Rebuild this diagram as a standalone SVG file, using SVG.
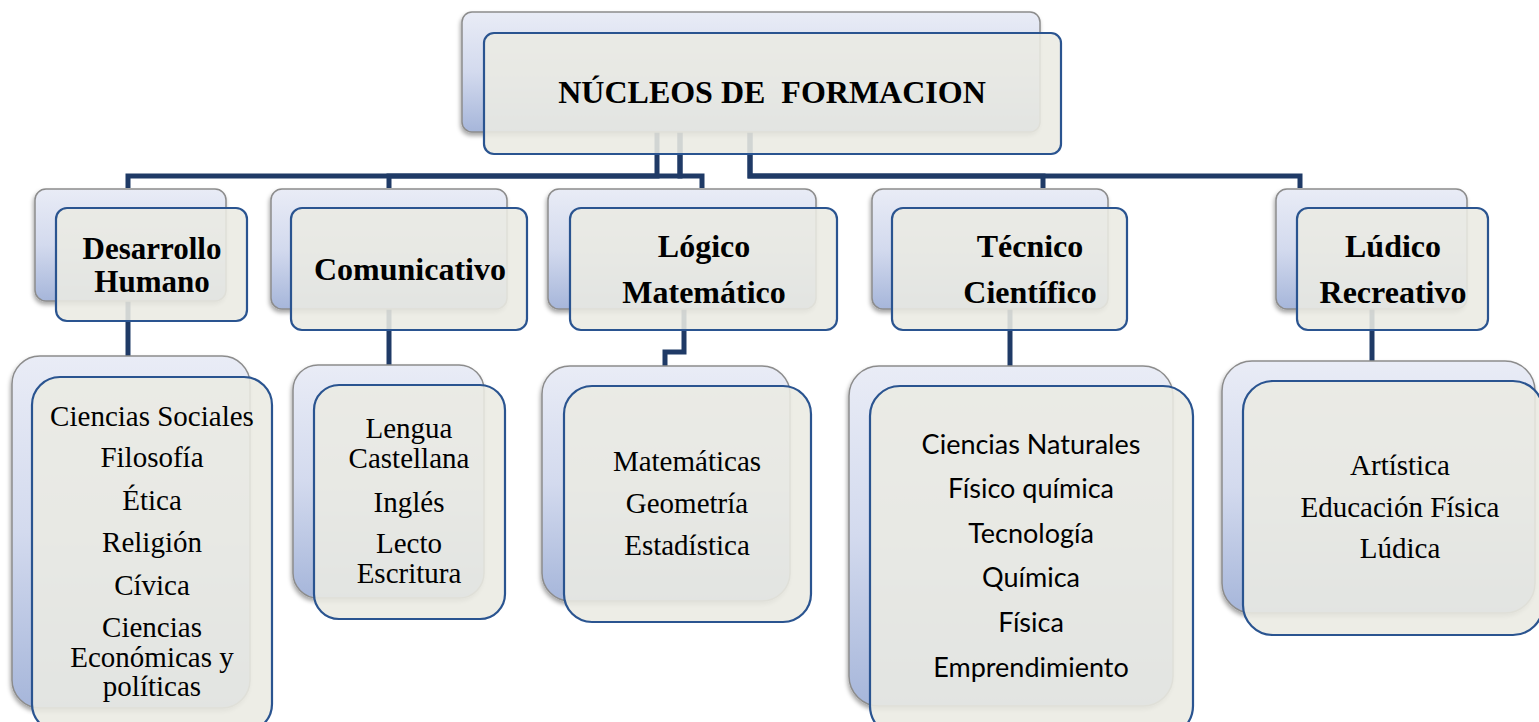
<svg xmlns="http://www.w3.org/2000/svg" width="1539" height="722" viewBox="0 0 1539 722">
<defs>
<linearGradient id="g" x1="0" y1="0" x2="0" y2="1">
<stop offset="0" stop-color="#e9ecf6"/>
<stop offset="0.5" stop-color="#d3daee"/>
<stop offset="1" stop-color="#a6b6da"/>
</linearGradient>
<filter id="sh" x="-10%" y="-10%" width="120%" height="125%">
<feDropShadow dx="-1" dy="3" stdDeviation="2" flood-color="#000" flood-opacity="0.35"/>
</filter>
<style>
.back{fill:url(#g);stroke:#8c8c8c;stroke-width:1.5;filter:url(#sh)}
.front{fill:#ebeae3;fill-opacity:0.88;stroke:#2a5490;stroke-width:2.2}
.conn{fill:none;stroke:#1f3a66;stroke-width:5}
.h{font-family:"Liberation Serif","Times New Roman",serif;font-weight:bold;font-size:32px;text-anchor:middle;fill:#000;white-space:pre}
.t{font-family:"Liberation Serif","Times New Roman",serif;font-size:29px;text-anchor:middle;fill:#000}
.c{font-family:Lato,"Open Sans",sans-serif;font-size:27px;text-anchor:middle;fill:#000}
</style>
</defs>
<rect width="1539" height="722" fill="#fff"/>

<g id="connectors">
<path class="conn" d="M657,132 V176 H128 V188"/>
<path class="conn" d="M680,132 V176 H389 V188"/>
<path class="conn" d="M680,132 V176 H702 V188"/>
<path class="conn" d="M750,132 V176 H1043 V188"/>
<path class="conn" d="M750,132 V176 H1300 V188"/>
<path class="conn" d="M128,300 V356"/>
<path class="conn" d="M389,308 V365"/>
<path class="conn" d="M684,308 V352 H665 V366"/>
<path class="conn" d="M1010,308 V366"/>
<path class="conn" d="M1372,308 V361"/>
</g>

<g id="root">
<rect class="back" x="462" y="12" width="578" height="120" rx="10"/>
<rect class="front" x="484" y="33" width="577" height="121" rx="10"/>
<text class="h" x="772" y="103">NÚCLEOS DE  FORMACION</text>
</g>

<g id="desarrollo">
<rect class="back" x="35" y="189" width="191" height="112" rx="11"/>
<rect class="front" x="56" y="208" width="191" height="113" rx="11"/>
<text class="h" x="152" y="259" style="font-size:31px">Desarrollo</text>
<text class="h" x="152" y="292" style="font-size:31px">Humano</text>
</g>

<g id="comunicativo">
<rect class="back" x="271" y="189" width="236" height="120" rx="11"/>
<rect class="front" x="291" y="208" width="236" height="122" rx="11"/>
<text class="h" x="410" y="280">Comunicativo</text>
</g>

<g id="logico">
<rect class="back" x="548" y="189" width="268" height="120" rx="11"/>
<rect class="front" x="570" y="208" width="267" height="122" rx="11"/>
<text class="h" x="704" y="257">Lógico</text>
<text class="h" x="704" y="303">Matemático</text>
</g>

<g id="tecnico">
<rect class="back" x="872" y="189" width="236" height="120" rx="11"/>
<rect class="front" x="892" y="208" width="235" height="122" rx="11"/>
<text class="h" x="1030" y="257">Técnico</text>
<text class="h" x="1030" y="303">Científico</text>
</g>

<g id="ludico">
<rect class="back" x="1276" y="189" width="191" height="120" rx="11"/>
<rect class="front" x="1297" y="208" width="191" height="122" rx="11"/>
<text class="h" x="1393" y="257">Lúdico</text>
<text class="h" x="1393" y="303">Recreativo</text>
</g>

<g id="desarrollo-list">
<rect class="back" x="12" y="356" width="238" height="352" rx="28"/>
<rect class="front" x="32" y="377" width="240" height="355" rx="28"/>
<text class="t" x="152" y="426">Ciencias Sociales</text>
<text class="t" x="152" y="467">Filosofía</text>
<text class="t" x="152" y="510">Ética</text>
<text class="t" x="152" y="552">Religión</text>
<text class="t" x="152" y="595">Cívica</text>
<text class="t" x="152" y="637">Ciencias</text>
<text class="t" x="152" y="667">Económicas y</text>
<text class="t" x="152" y="696">políticas</text>
</g>

<g id="comunicativo-list">
<rect class="back" x="293" y="365" width="191" height="233" rx="25"/>
<rect class="front" x="314" y="385" width="191" height="234" rx="25"/>
<text class="t" x="409" y="438">Lengua</text>
<text class="t" x="409" y="468">Castellana</text>
<text class="t" x="409" y="512">Inglés</text>
<text class="t" x="409" y="553">Lecto</text>
<text class="t" x="409" y="583">Escritura</text>
</g>

<g id="logico-list">
<rect class="back" x="542" y="366" width="248" height="235" rx="28"/>
<rect class="front" x="564" y="386" width="247" height="236" rx="28"/>
<text class="t" x="687" y="471">Matemáticas</text>
<text class="t" x="687" y="513">Geometría</text>
<text class="t" x="687" y="555">Estadística</text>
</g>

<g id="tecnico-list">
<rect class="back" x="849" y="366" width="324" height="340" rx="30"/>
<rect class="front" x="870" y="386" width="323" height="350" rx="30"/>
<text class="c" x="1031" y="454">Ciencias Naturales</text>
<text class="c" x="1031" y="498">Físico química</text>
<text class="c" x="1031" y="543">Tecnología</text>
<text class="c" x="1031" y="587">Química</text>
<text class="c" x="1031" y="632">Física</text>
<text class="c" x="1031" y="677">Emprendimiento</text>
</g>

<g id="ludico-list">
<rect class="back" x="1222" y="361" width="313" height="252" rx="30"/>
<rect class="front" x="1243" y="381" width="300" height="254" rx="30"/>
<text class="t" x="1400" y="475">Artística</text>
<text class="t" x="1400" y="517">Educación Física</text>
<text class="t" x="1400" y="558">Lúdica</text>
</g>
</svg>
